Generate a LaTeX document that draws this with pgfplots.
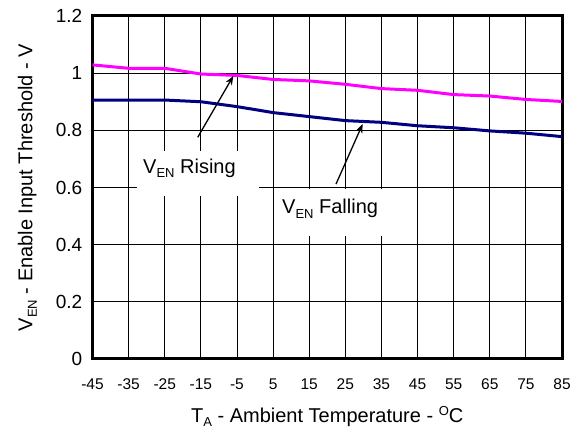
\documentclass[border=0pt]{standalone}
\usepackage{fontspec}
\setmainfont{Liberation Sans}
\usepackage{pgfplots}
\pgfplotsset{compat=1.18}
\usetikzlibrary{arrows.meta}
\definecolor{mag}{RGB}{255,0,255}
\definecolor{nav}{RGB}{0,0,128}
\newcommand{\sub}[1]{\raisebox{-4.5pt}{\fontsize{13}{13}\selectfont #1}}
\newcommand{\sups}[1]{\raisebox{7pt}{\fontsize{13}{13}\selectfont #1}}
\begin{document}
\begin{tikzpicture}
\useasboundingbox (-92.5pt,-71pt) rectangle (488.5pt,359pt);
\begin{axis}[
  at={(0,0)}, anchor=south west,
  scale only axis, width=469.5pt, height=343pt,
  xmin=-45, xmax=85, ymin=0, ymax=1.2,
  xtick={-45,-35,-25,-15,-5,5,15,25,35,45,55,65,75,85},
  xticklabels={-45,-35,-25,-15,-5,5,15,25,35,45,55,65,75,85},
  ytick={0,0.2,0.4,0.6,0.8,1,1.2},
  yticklabels={0,0.2,0.4,0.6,0.8,1,1.2},
  grid=major,
  major grid style={black, line width=0.8pt},
  axis line style={black, line width=3pt},
  major tick length=0pt,
  tick style={draw=none},
  xticklabel style={font=\fontsize{15.5}{16}\selectfont, anchor=center, inner sep=0pt, yshift=-25pt},
  yticklabel style={font=\fontsize{19}{19}\selectfont, anchor=east, inner sep=0pt, xshift=-10pt},
  xlabel={T\sub{A} - Ambient Temperature - \sups{O}C},
  ylabel={V\sub{EN} - Enable Input Threshold - V},
  xlabel style={font=\fontsize{20}{20}\selectfont, at={(axis description cs:0.5,-0.1837)}, anchor=base, inner sep=0pt},
  ylabel style={font=\fontsize{20}{20}\selectfont, at={(axis description cs:-0.1278,0.5)}, anchor=base, inner sep=0pt, rotate=0},
]
\addplot[mag, line width=3pt] coordinates {
(-45,1.029) (-35,1.017) (-25,1.017) (-15,0.997) (-5,0.992) (5,0.978) (15,0.973)
(25,0.961) (35,0.946) (45,0.940) (55,0.925) (65,0.920) (75,0.908) (85,0.901)};
\addplot[nav, line width=3pt] coordinates {
(-45,0.906) (-35,0.906) (-25,0.906) (-15,0.900) (-5,0.883) (5,0.862) (15,0.848)
(25,0.834) (35,0.828) (45,0.816) (55,0.809) (65,0.798) (75,0.790) (85,0.778)};
\fill[white] (axis cs:-32.68,0.5703) rectangle (axis cs:1.10,0.7277);
\fill[white] (axis cs:5.53,0.4303) rectangle (axis cs:40.14,0.5947);
\node[anchor=base west, inner sep=0pt, font=\fontsize{20}{20}\selectfont] at (axis cs:-31.02,0.6497) {V\sub{EN} Rising};
\node[anchor=base west, inner sep=0pt, font=\fontsize{20}{20}\selectfont] at (axis cs:7.47,0.5073) {V\sub{EN} Falling};
\draw[black, line width=1.3pt, -{Stealth[length=9pt,width=7pt]}] (axis cs:-15.87,0.7756) -- (axis cs:-6.01,0.990);
\draw[black, line width=1.3pt, -{Stealth[length=9pt,width=7pt]}] (axis cs:22.42,0.612) -- (axis cs:29.8,0.822);
\end{axis}
\end{tikzpicture}
\end{document}
